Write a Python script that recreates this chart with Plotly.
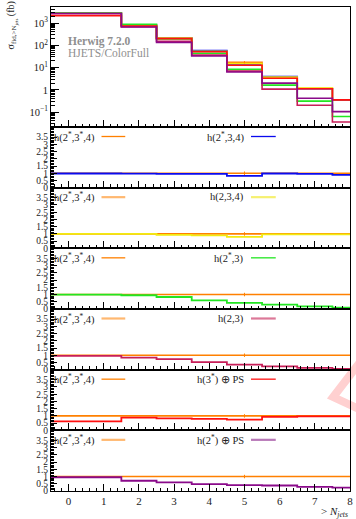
import plotly.graph_objects as go
from plotly.subplots import make_subplots

# ---------------- data ----------------
bin_edges = [-0.5, 1.5, 2.5, 3.5, 4.5, 5.5, 6.5, 7.5, 8.5]

ref_label = "h(2<sup>*</sup>,3<sup>*</sup>,4)"
xsec_ref = [2760, 794, 219, 55.0, 17.4, 3.55, 1.15, 0.355]
ref_err_bin5 = 2.0

labels = [
    "h(2<sup>*</sup>,3,4)",
    "h(2,3,4)",
    "h(2<sup>*</sup>,3)",
    "h(2,3)",
    "h(3<sup>*</sup>) ⊕ PS",
    "h(2<sup>*</sup>) ⊕ PS",
]
xsec_blue    = [2820, 794, 214, 57.5, 14.5, 3.90, 1.12, 0.340]
xsec_yellow  = [2820, 794, 214, 53.7, 15.1, 3.70, 1.20, 0.360]
xsec_green   = [2820, 871, 191, 43.7, 8.30, 1.62, 0.31, 0.063]
xsec_crimson = [2690, 692, 151, 36.3, 6.90, 1.07, 0.204, 0.036]
xsec_red     = [2140, 724, 200, 51.3, 12.6, 3.30, 1.12, 0.355]
xsec_purple  = [2690, 661, 135, 33.1, 6.30, 2.00, 0.42, 0.105]

ratio_blue    = [0.98, 0.97, 0.96, 0.95, 0.82, 0.98, 0.95, 0.88]
ratio_yellow  = [1.00, 1.00, 0.93, 0.90, 0.80, 0.96, 0.96, 0.96]
ratio_green   = [1.00, 0.95, 0.83, 0.59, 0.42, 0.30, 0.18, 0.09]
ratio_crimson = [0.95, 0.83, 0.73, 0.52, 0.35, 0.23, 0.12, 0.06]
ratio_red     = [0.62, 0.88, 0.83, 0.80, 0.74, 0.93, 0.97, 0.97]
ratio_purple  = [0.95, 0.71, 0.59, 0.47, 0.40, 0.38, 0.28, 0.23]
ratio_ref     = [1, 1, 1, 1, 1, 1, 1, 1]

xsecs = [xsec_blue, xsec_yellow, xsec_green, xsec_crimson, xsec_red, xsec_purple]
ratios = [ratio_blue, ratio_yellow, ratio_green, ratio_crimson, ratio_red, ratio_purple]

ref_color = "#ff8000"
colors = ["#0a0aee", "#f2ea10", "#22e622", "#c81e58", "#ff1010", "#8a0a8a"]
sample_colors = ["#0a0aee", "#f6f070", "#22e622", "#dc7898", "#ff1010", "#b878b8"]
ref_sample_colors = ["#ff8000", "#ffb870", "#ff8000", "#ffb870", "#ff8000", "#ffb870"]

# ---------------- layout geometry (pixels) ----------------
W_FIG, H_FIG = 356, 519
L, R, T, B = 51, 3, 7, 28
PW, PH = W_FIG - L - R, H_FIG - T - B
MAIN_H = 120
RAT_H = (PH - MAIN_H) / 6.0


def px(x):
    return (x - L) / PW


def py(y):
    return (T + PH - y) / PH


FONT = "Liberation Serif"

fig = make_subplots(rows=7, cols=1, shared_xaxes=True, vertical_spacing=0,
                    row_heights=[MAIN_H] + [RAT_H] * 6)


def step(vals):
    return bin_edges, list(vals) + [vals[-1]]


# main panel
x, y = step(xsec_ref)
fig.add_trace(go.Scatter(x=x, y=y, mode="lines", line=dict(color=ref_color, width=1.6, shape="hv"),
                         showlegend=False, hoverinfo="skip"), row=1, col=1)
for vals, c in zip(xsecs, colors):
    x, y = step(vals)
    fig.add_trace(go.Scatter(x=x, y=y, mode="lines", line=dict(color=c, width=1.6, shape="hv"),
                             showlegend=False, hoverinfo="skip"), row=1, col=1)
fig.add_trace(go.Scatter(x=[5], y=[xsec_ref[4]], mode="markers", marker=dict(size=1, color=ref_color),
                         error_y=dict(type="data", array=[ref_err_bin5], color=ref_color, thickness=1, width=0),
                         showlegend=False, hoverinfo="skip"), row=1, col=1)

# ratio panels
for i, (vals, c) in enumerate(zip(ratios, colors)):
    r = i + 2
    x, y = step(ratio_ref)
    fig.add_trace(go.Scatter(x=x, y=y, mode="lines", line=dict(color=ref_color, width=1.6, shape="hv"),
                             showlegend=False, hoverinfo="skip"), row=r, col=1)
    x, y = step(vals)
    fig.add_trace(go.Scatter(x=x, y=y, mode="lines", line=dict(color=c, width=1.8, shape="hv"),
                             showlegend=False, hoverinfo="skip"), row=r, col=1)
    fig.add_trace(go.Scatter(x=[5], y=[1], mode="markers", marker=dict(size=1, color=ref_color),
                             error_y=dict(type="data", array=[0.12], color=ref_color, thickness=1, width=0),
                             showlegend=False, hoverinfo="skip"), row=r, col=1)

# axes
for r in range(1, 8):
    fig.update_xaxes(range=[-0.5, 8], showline=True, linecolor="black", linewidth=1, mirror=True,
                     ticks="inside", ticklen=7, tickwidth=1, tickcolor="black", tick0=0, dtick=1,
                     minor=dict(ticks="inside", ticklen=3.5, tickwidth=1, tickcolor="black", tick0=0, dtick=0.2),
                     showgrid=False, zeroline=False, ticklabeloverflow="allow",
                     tickfont=dict(family=FONT, size=11, color="#222"),
                     showticklabels=(r == 7), row=r, col=1)

minor_log = [m * 10 ** k for k in range(-2, 4) for m in range(2, 10)]
fig.update_yaxes(type="log", range=[-1.67, 3.72], showline=True, linecolor="black", linewidth=1, mirror=True,
                 ticks="inside", ticklen=8, tickwidth=1, tickcolor="black",
                 tickvals=[0.1, 1, 10, 100, 1000],
                 ticktext=["10<sup>−1</sup>", "1", "10<sup>1</sup>", "10<sup>2</sup>", "10<sup>3</sup>"],
                 minor=dict(ticks="inside", ticklen=4, tickwidth=1, tickcolor="black", tickvals=minor_log),
                 showgrid=False, zeroline=False,
                 tickfont=dict(family=FONT, size=10.5, color="#222"), row=1, col=1)

ratio_ticks = [0, 0.5, 1, 1.5, 2, 2.5, 3, 3.5]
for r in range(2, 8):
    fig.update_yaxes(range=[0, 4.2], showline=True, linecolor="black", linewidth=1, mirror=True,
                     ticks="inside", ticklen=6, tickwidth=1, tickcolor="black",
                     tickvals=ratio_ticks, ticktext=[f"{v:g}" for v in ratio_ticks],
                     minor=dict(ticks="inside", ticklen=3, tickwidth=1, tickcolor="black", tick0=0, dtick=0.1),
                     showgrid=False, zeroline=False,
                     tickfont=dict(family=FONT, size=9.5, color="#222"), row=r, col=1)

ann = []
shapes = []
# main panel text
ann.append(dict(x=px(66), y=py(41.5), xref="paper", yref="paper", xanchor="left", yanchor="middle",
                text="<b>Herwig 7.2.0</b>", showarrow=False,
                font=dict(family=FONT, size=11.5, color="#8f8f8f")))
ann.append(dict(x=px(66), y=py(53), xref="paper", yref="paper", xanchor="left", yanchor="middle",
                text="HJETS/ColorFull", showarrow=False,
                font=dict(family=FONT, size=11.5, color="#8f8f8f")))
# y title
ann.append(dict(x=px(12), y=py(25), xref="paper", yref="paper", xanchor="center", yanchor="middle",
                text="σ<sub>fid,&gt;N<sub>jets</sub></sub> (fb)", textangle=-90, showarrow=False,
                font=dict(family=FONT, size=10, color="#222")))
# x title
ann.append(dict(x=px(353), y=py(512), xref="paper", yref="paper", xanchor="right", yanchor="middle",
                text="&gt; <i>N</i><sub><i>jets</i></sub>", showarrow=False,
                font=dict(family=FONT, size=11, color="#222")))

# ratio legends
for i in range(6):
    top = T + MAIN_H + i * RAT_H
    yl = py(top + 9.5)
    ann.append(dict(x=px(52), y=yl, xref="paper", yref="paper", xanchor="left", yanchor="middle",
                    text=ref_label, showarrow=False, font=dict(family=FONT, size=10.5, color="#222")))
    shapes.append(dict(type="line", xref="paper", yref="paper", x0=px(102), x1=px(126), y0=yl, y1=yl,
                       line=dict(color=ref_sample_colors[i], width=1.3 if i % 2 == 0 else 2.2)))
    ann.append(dict(x=px(248), y=yl, xref="paper", yref="paper", xanchor="right", yanchor="middle",
                    text=labels[i], showarrow=False, font=dict(family=FONT, size=10.5, color="#222")))
    shapes.append(dict(type="line", xref="paper", yref="paper", x0=px(253), x1=px(278), y0=yl, y1=yl,
                       line=dict(color=sample_colors[i], width=1.3 if i % 2 == 0 else 2.2)))

# faint watermark at right edge
path = "M {:.4f},{:.4f} L {:.4f},{:.4f} L {:.4f},{:.4f}".format(px(364), py(361), px(336), py(397),
                                                                  px(364), py(410))
shapes.append(dict(type="path", xref="paper", yref="paper", path=path, layer="below",
                   line=dict(color="#ffd0d0", width=8)))

fig.update_layout(width=W_FIG, height=H_FIG, margin=dict(l=L, r=R, t=T, b=B, pad=0),
                  paper_bgcolor="white", plot_bgcolor="rgba(0,0,0,0)",
                  showlegend=False, annotations=ann, shapes=shapes,
                  font=dict(family=FONT, color="#222"))

fig.write_html("out.html")
